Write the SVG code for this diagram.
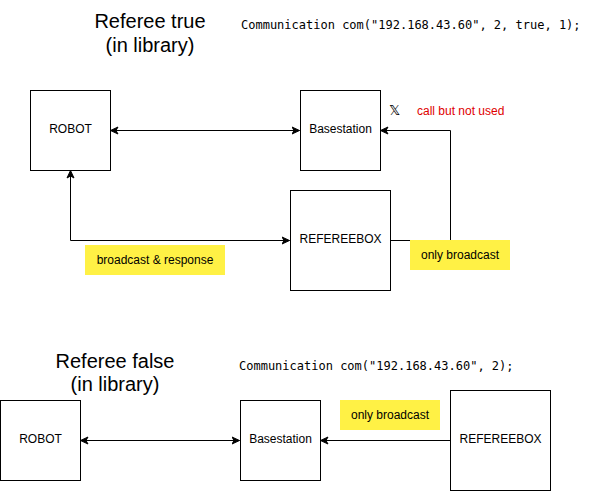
<svg xmlns="http://www.w3.org/2000/svg" width="591" height="491" viewBox="0 0 591 491">
<defs>
<style>
.box{fill:#fff;stroke:#000;stroke-width:1}
.lbl{font-family:"Liberation Sans",Arial,sans-serif;font-size:12px;fill:#000;text-anchor:middle;dominant-baseline:central}
.title{font-family:"Liberation Sans",Arial,sans-serif;font-size:20px;fill:#000;text-anchor:middle}
.code{font-family:"DejaVu Sans Mono",monospace;font-size:12px;fill:#000}
.note{fill:#FFF145;stroke:none}
.notet{font-family:"Liberation Sans",Arial,sans-serif;font-size:12px;fill:#000;text-anchor:middle;dominant-baseline:central}
.edge{fill:none;stroke:#000;stroke-width:1}
</style>
<marker id="arr" markerUnits="userSpaceOnUse" markerWidth="10" markerHeight="10" refX="8" refY="4.5" orient="auto-start-reverse">
<path d="M0.5,1 L8,4.5 L0.5,8 L2.5,4.5 Z" fill="#000" stroke="#000" stroke-width="1"/>
</marker>
</defs>
<rect width="591" height="491" fill="#fff"/>

<g id="titles">
<text class="title" x="150" y="28">Referee true</text>
<text class="title" x="150" y="52">(in library)</text>
<text class="code" x="241" y="29">Communication com("192.168.43.60", 2, true, 1);</text>
<text class="title" x="115" y="368">Referee false</text>
<text class="title" x="115" y="391">(in library)</text>
<text class="code" x="239" y="370">Communication com("192.168.43.60", 2);</text>
</g>

<g id="connectors">
<path class="edge" d="M110.5,130.5 L299.5,130.5" marker-start="url(#arr)" marker-end="url(#arr)"/>
<path class="edge" d="M70.5,170.5 L70.5,240.5 L289.5,240.5" marker-start="url(#arr)" marker-end="url(#arr)"/>
<path class="edge" d="M390.5,240.5 L450.5,240.5 L450.5,130.5 L380.5,130.5" marker-end="url(#arr)"/>
<path class="edge" d="M80.5,440.5 L239.5,440.5" marker-start="url(#arr)" marker-end="url(#arr)"/>
<path class="edge" d="M450.5,440.5 L320.5,440.5" marker-end="url(#arr)"/>
</g>

<g id="robot1">
<rect class="box" x="30.5" y="90.5" width="80" height="80"/>
<text class="lbl" x="70.5" y="129">ROBOT</text>
</g>
<g id="basestation1">
<rect class="box" x="300.5" y="90.5" width="80" height="80"/>
<text class="lbl" x="340.5" y="129">Basestation</text>
</g>
<g id="refereebox1">
<rect class="box" x="290.5" y="190.5" width="100" height="100"/>
<text class="lbl" x="340.5" y="239">REFEREEBOX</text>
</g>
<g id="note-unused">
<text x="389" y="115" style="font-family:'DejaVu Sans',sans-serif;font-size:14px;fill:#000">𝕏</text>
<text x="417" y="115" style="font-family:'Liberation Sans',Arial,sans-serif;font-size:12px;fill:#E00000">call but not used</text>
</g>
<g id="label-broadcast-response">
<rect class="note" x="85" y="245" width="140" height="30"/>
<text class="notet" x="155" y="259.5">broadcast &amp; response</text>
</g>
<g id="label-only-broadcast1">
<rect class="note" x="410" y="240" width="100" height="30"/>
<text class="notet" x="460" y="254.5">only broadcast</text>
</g>

<g id="robot2">
<rect class="box" x="0.5" y="400.5" width="80" height="80"/>
<text class="lbl" x="40.5" y="439">ROBOT</text>
</g>
<g id="basestation2">
<rect class="box" x="240.5" y="400.5" width="80" height="80"/>
<text class="lbl" x="280.5" y="439">Basestation</text>
</g>
<g id="refereebox2">
<rect class="box" x="450.5" y="390.5" width="100" height="100"/>
<text class="lbl" x="500.5" y="439">REFEREEBOX</text>
</g>
<g id="label-only-broadcast2">
<rect class="note" x="340" y="400" width="100" height="30"/>
<text class="notet" x="390" y="414.5">only broadcast</text>
</g>
</svg>
